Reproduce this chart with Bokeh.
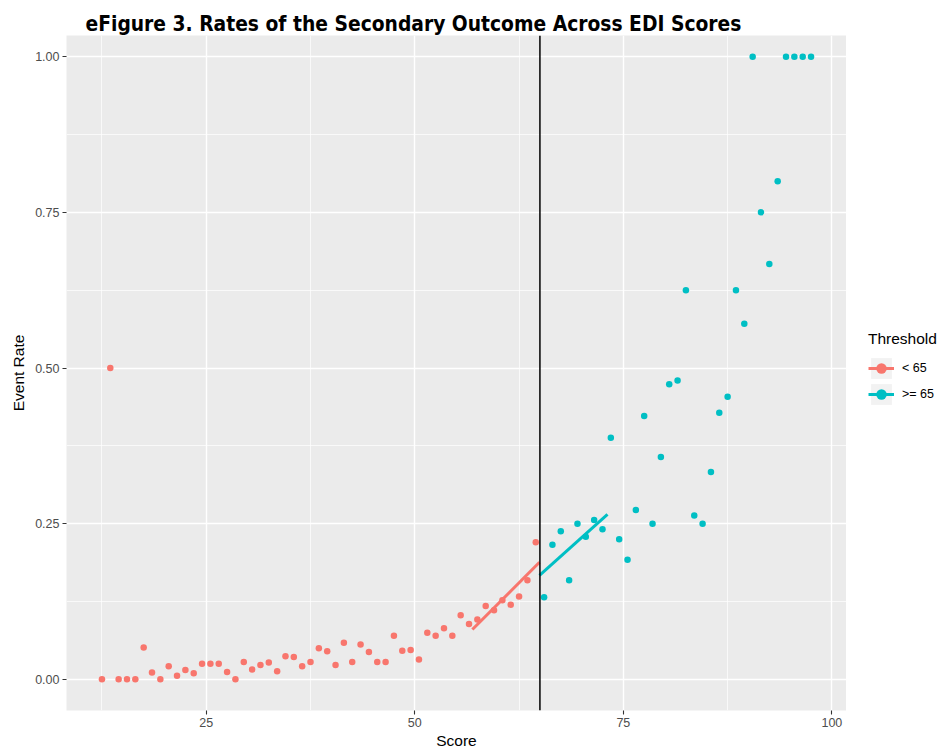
from bokeh.plotting import figure
from bokeh.layouts import row
from bokeh.models import (Range1d, FixedTicker, NumeralTickFormatter, Span,
                          Legend, LegendItem, ColumnDataSource)
from bokeh.embed import file_html
from bokeh.resources import INLINE

# ---- data ----
lo_x = [12.5 + i for i in range(53)]
lo_y = [0.0, 0.5, 0.0, 0.0, 0.0, 0.051, 0.011, 0.0, 0.021, 0.006,
        0.015, 0.010, 0.025, 0.025, 0.025, 0.012, 0.0, 0.028, 0.016, 0.023,
        0.027, 0.013, 0.037, 0.036, 0.021, 0.028, 0.050, 0.045, 0.023, 0.059,
        0.028, 0.056, 0.044, 0.028, 0.028, 0.070, 0.046, 0.047, 0.032, 0.075,
        0.070, 0.082, 0.070, 0.103, 0.089, 0.096, 0.118, 0.111, 0.127, 0.120,
        0.133, 0.159, 0.220]
hi_x = [65.5 + i for i in range(33)]
hi_y = [0.132, 0.216, 0.238, 0.159, 0.250, 0.229, 0.256, 0.241, 0.388, 0.225,
        0.192, 0.272, 0.423, 0.250, 0.357, 0.474, 0.480, 0.625, 0.263, 0.250,
        0.333, 0.428, 0.454, 0.625, 0.571, 1.0, 0.750, 0.667, 0.800, 1.0,
        1.0, 1.0, 1.0]
lo_fit_x = [56.9, 64.95]
lo_fit_y = [0.080, 0.188]
hi_fit_x = [64.95, 73.1]
hi_fit_y = [0.167, 0.265]
cutoff = 65
x_ticks = [25, 50, 75, 100]
y_ticks = [0.0, 0.25, 0.5, 0.75, 1.0]
labels = ["< 65", ">= 65"]
colors = ["#F8766D", "#00BFC4"]
title_text = "eFigure 3. Rates of the Secondary Outcome Across EDI Scores"

x0, x1 = 8.25, 101.75
y0, y1 = -0.05, 1.034

p = figure(width=846, height=752, output_backend="svg", toolbar_location=None,
           x_range=Range1d(x0, x1), y_range=Range1d(y0, y1),
           min_border_left=66, min_border_right=0, min_border_top=35, min_border_bottom=42)
p.background_fill_color = "#EBEBEB"
p.border_fill_color = "white"
p.outline_line_color = None

p.title.text = title_text
p.title.text_font = "'Liberation Sans Narrow', 'Arial Narrow', 'DejaVu Sans Condensed', sans-serif"
p.title.text_font_style = "bold"
p.title.text_font_size = "20.8px"
p.title.text_color = "black"
p.title.align = "left"
p.title.offset = 19
p.title.standoff = 0

# axes
p.xaxis.ticker = FixedTicker(ticks=x_ticks, minor_ticks=[12.5, 37.5, 62.5, 87.5])
p.yaxis.ticker = FixedTicker(ticks=y_ticks, minor_ticks=[0.125, 0.375, 0.625, 0.875])
p.yaxis.formatter = NumeralTickFormatter(format="0.00")
for ax in (p.xaxis, p.yaxis):
    ax.axis_line_color = None
    ax.minor_tick_line_color = None
    ax.major_tick_in = 0
    ax.major_tick_out = 4
    ax.major_tick_line_color = "#333333"
    ax.major_tick_line_width = 1.1
    ax.major_label_text_color = "#4D4D4D"
    ax.major_label_text_font = "Liberation Sans"
    ax.major_label_text_font_size = "12.5px"
    ax.major_label_standoff = 3
    ax.axis_label_text_font = "Liberation Sans"
    ax.axis_label_text_font_size = "15.5px"
    ax.axis_label_text_font_style = "normal"
    ax.axis_label_text_color = "black"
p.xaxis.axis_label = "Score"
p.xaxis.axis_label_standoff = 2
p.yaxis.axis_label = "Event Rate"
p.yaxis.axis_label_standoff = 5

for g in (p.xgrid, p.ygrid):
    g.grid_line_color = "white"
    g.grid_line_width = 1.4
    g.minor_grid_line_color = "white"
    g.minor_grid_line_width = 0.7

# data
src_lo = ColumnDataSource(dict(x=lo_x, y=lo_y))
src_hi = ColumnDataSource(dict(x=hi_x, y=hi_y))
p.scatter("x", "y", source=src_lo, size=6.5, color=colors[0], line_color=None)
p.scatter("x", "y", source=src_hi, size=6.5, color=colors[1], line_color=None)
p.line(lo_fit_x, lo_fit_y, line_color=colors[0], line_width=3)
p.line(hi_fit_x, hi_fit_y, line_color=colors[1], line_width=3)
p.add_layout(Span(location=cutoff, dimension="height", line_color="black", line_width=1.5))

# ---- legend panel (key glyphs kept outside its visible range) ----
lp = figure(width=97, height=752, output_backend="svg", toolbar_location=None,
            x_range=Range1d(0, 1), y_range=Range1d(0, 1), x_axis_type=None, y_axis_type=None,
            min_border=0, min_border_left=0, min_border_right=0, min_border_top=0,
            min_border_bottom=0)
lp.outline_line_color = None
lp.background_fill_color = "white"
lp.border_fill_color = "white"
lp.xgrid.visible = False
lp.ygrid.visible = False

items = []
for lab, col in zip(labels, colors):
    bg = lp.quad(left=[-3], right=[-2], top=[-2], bottom=[-3], fill_color="#F2F2F2", line_color=None)
    ln = lp.line(x=[-3, -2], y=[-3, -3], line_color=col, line_width=3)
    sc = lp.scatter(x=[-3], y=[-3], size=6.5, color=col, line_color=None)
    items.append(LegendItem(label=lab, renderers=[bg, ln, sc]))

legend = Legend(items=items, title="Threshold", location=(22, 303), padding=0, margin=0,
                spacing=0, glyph_width=26, glyph_height=26, label_standoff=8,
                background_fill_alpha=0, border_line_color=None)
legend.title_text_font = "Liberation Sans"
legend.title_text_font_size = "15.5px"
legend.title_text_font_style = "normal"
legend.title_text_color = "black"
legend.title_standoff = 7
legend.label_text_font = "Liberation Sans"
legend.label_text_font_size = "12.5px"
legend.label_text_color = "black"
lp.add_layout(legend)

layout = row(p, lp, spacing=0)
open("out.html", "w").write(file_html(layout, INLINE))
